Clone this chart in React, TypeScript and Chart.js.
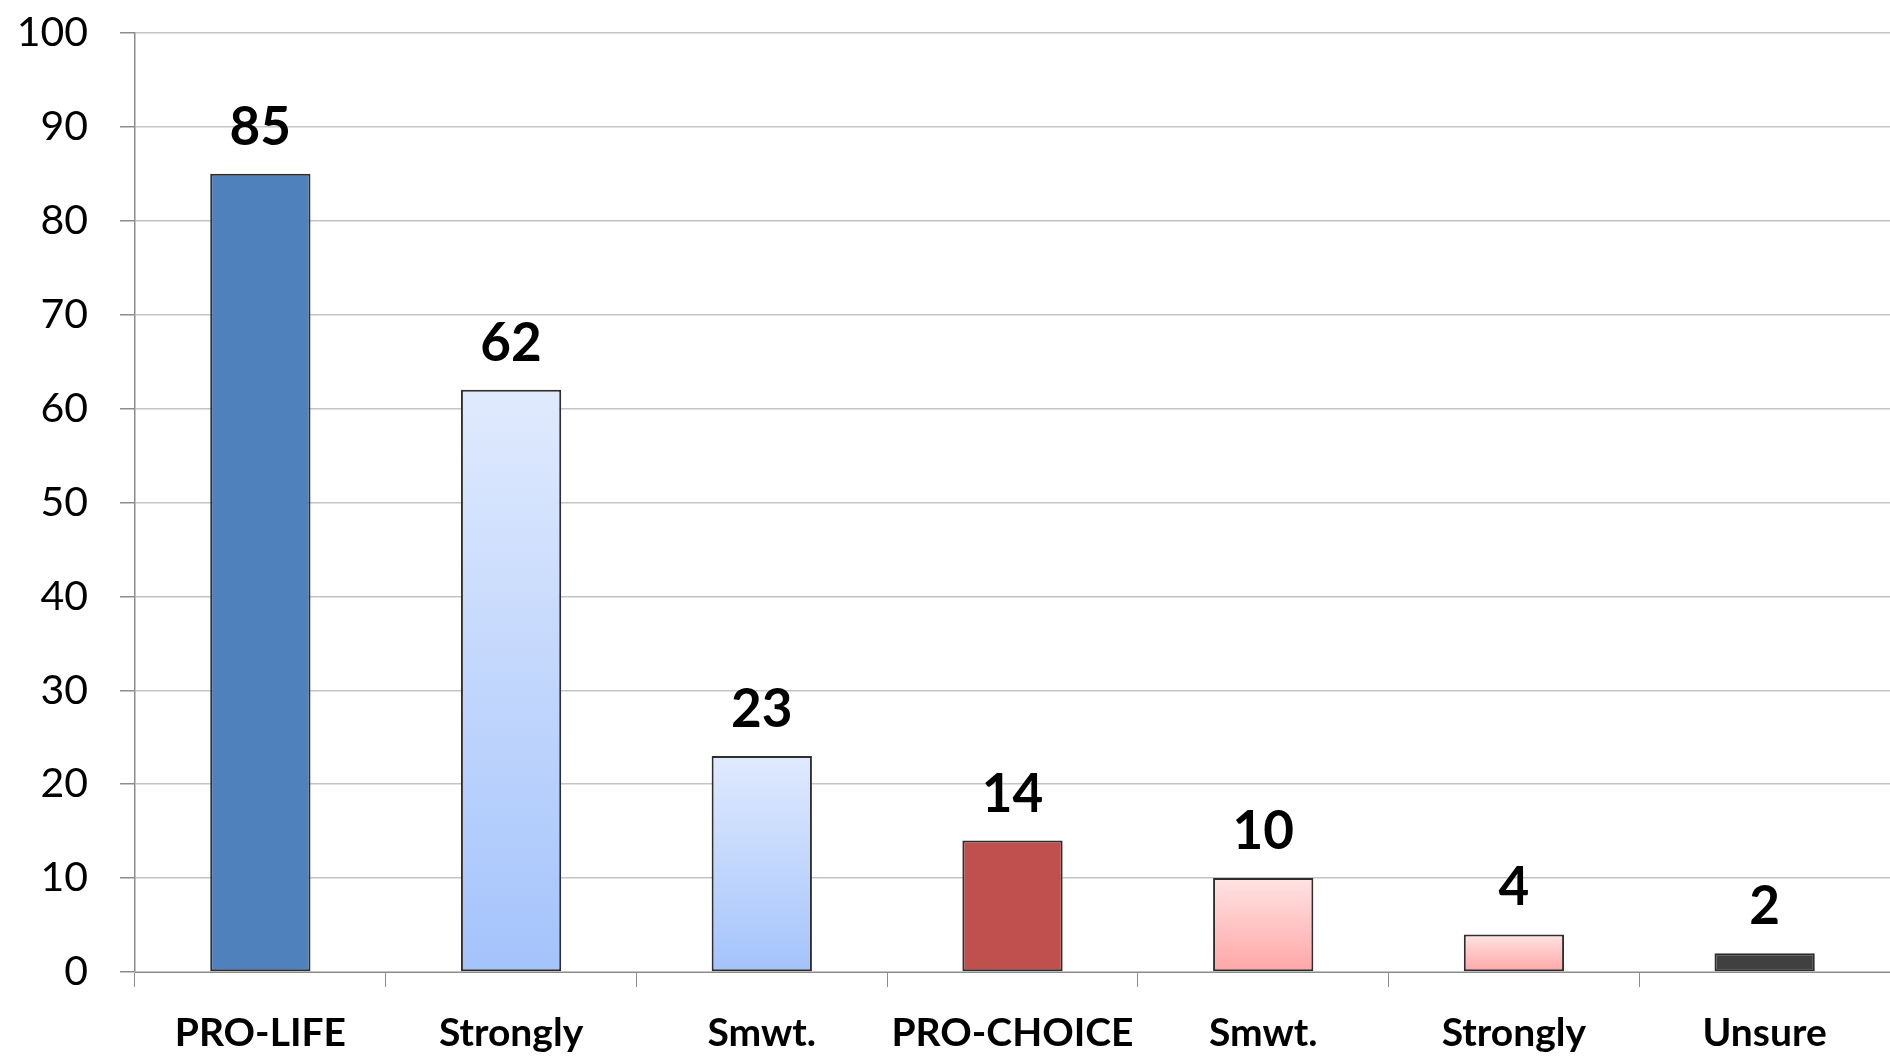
import React, { useEffect, useRef } from "react";
import { Chart, registerables } from "chart.js";

Chart.register(...registerables);

const categories = ["PRO-LIFE", "Strongly", "Smwt.", "PRO-CHOICE", "Smwt.", "Strongly", "Unsure"];
const values = [85, 62, 23, 14, 10, 4, 2];
const topColors = ["#4f81bd", "#e0eafd", "#e0eafd", "#c0504d", "#ffe3e3", "#ffe3e3", "#404040"];
const bottomColors = ["#4f81bd", "#a4c3fb", "#a4c3fb", "#c0504d", "#ffa6a6", "#ffa6a6", "#404040"];
const yTicks = [0, 10, 20, 30, 40, 50, 60, 70, 80, 90, 100];

const FONT = "Lato, 'Open Sans', sans-serif";

const valueLabelPlugin = {
  id: "valueLabels",
  afterDatasetsDraw(chart: any) {
    const ctx = chart.ctx;
    const meta = chart.getDatasetMeta(0);
    ctx.save();
    ctx.font = `bold 53px ${FONT}`;
    ctx.fillStyle = "#000";
    ctx.textAlign = "center";
    ctx.textBaseline = "alphabetic";
    meta.data.forEach((bar: any, i: number) => {
      ctx.fillText(String(values[i]), bar.x, bar.y - 29);
    });
    ctx.restore();
  },
};

export default function App() {
  const ref = useRef<HTMLCanvasElement | null>(null);

  useEffect(() => {
    document.body.style.margin = "0";
    const canvas = ref.current;
    if (!canvas) return;
    const chart = new Chart(canvas, {
      type: "bar",
      data: {
        labels: categories,
        datasets: [
          {
            data: values,
            backgroundColor: (c: any) => {
              const i = c.dataIndex;
              const ch = c.chart;
              const y = ch.scales && ch.scales.y;
              if (i === undefined || !y || topColors[i] === bottomColors[i]) return topColors[i] ?? "#000";
              const top = y.getPixelForValue(values[i]);
              const bot = y.getPixelForValue(0);
              if (!isFinite(top) || !isFinite(bot) || top === bot) return topColors[i];
              const g = ch.ctx.createLinearGradient(0, top, 0, bot);
              g.addColorStop(0, topColors[i]);
              g.addColorStop(1, bottomColors[i]);
              return g;
            },
            borderColor: "#2e2e2e",
            borderWidth: 2,
            borderSkipped: false,
            categoryPercentage: 1,
            barPercentage: 0.4,
          },
        ],
      },
      options: {
        responsive: false,
        animation: false,
        devicePixelRatio: 1,
        layout: { padding: { top: 33, right: 0, left: 0, bottom: 0 } },
        plugins: { legend: { display: false }, tooltip: { enabled: false } },
        scales: {
          x: {
            afterFit: (s: any) => {
              s.height = 88;
              s.paddingLeft = 0;
              s.paddingRight = 0;
            },
            grid: {
              display: true,
              drawOnChartArea: false,
              drawTicks: true,
              tickLength: 15,
              color: "#8c8c8c",
              offset: true,
            },
            border: { display: true, color: "#8c8c8c", width: 1 },
            ticks: {
              color: "#000",
              font: { family: FONT, size: 39, weight: "bold" },
              padding: 23,
              maxRotation: 0,
              autoSkip: false,
            },
          },
          y: {
            min: 0,
            max: 100,
            afterFit: (s: any) => {
              s.width = 135;
              s.paddingTop = 0;
              s.paddingBottom = 0;
            },
            afterBuildTicks: (s: any) => {
              s.ticks = yTicks.map((v) => ({ value: v }));
            },
            grid: {
              color: "#c4c4c4",
              lineWidth: 1.5,
              tickLength: 15,
              tickColor: "#8c8c8c",
            },
            border: { display: true, color: "#8c8c8c", width: 1.5 },
            ticks: {
              color: "#000",
              font: { family: FONT, size: 41 },
              padding: 32,
            },
          },
        },
      },
      plugins: [valueLabelPlugin],
    } as any);
    return () => chart.destroy();
  }, []);

  return (
    <div style={{ width: 1890, height: 1060, background: "#fff" }}>
      <canvas ref={ref} width={1890} height={1060} style={{ display: "block" }} />
    </div>
  );
}
